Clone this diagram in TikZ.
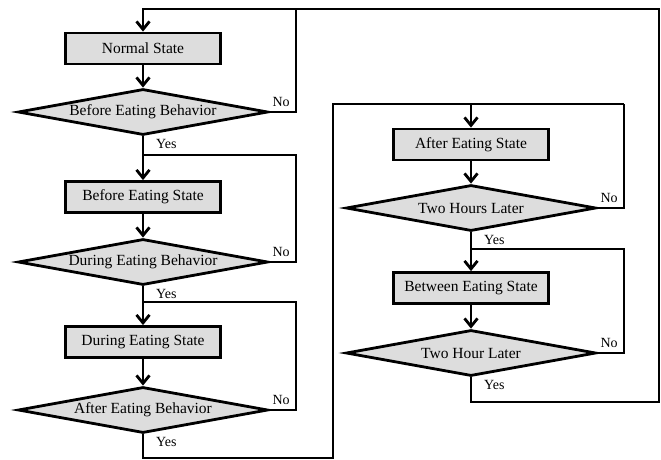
\documentclass[tikz,border=0pt]{standalone}
\usepackage{fontspec}
\setmainfont{Liberation Serif}
\usetikzlibrary{arrows.meta, shapes.geometric, positioning}
\definecolor{boxfill}{RGB}{221,221,221}

\begin{document}
\begin{tikzpicture}[
  x=1pt, y=-1pt,
  state/.style={rectangle, draw, line width=2.8pt, fill=boxfill,
                minimum width=155pt, minimum height=31pt, inner sep=0pt,
                font=\fontsize{15.5}{17}\selectfont},
  test/.style={diamond, aspect=5.2, draw, line width=2.8pt, fill=boxfill,
               minimum width=250pt, minimum height=46pt, inner sep=0pt,
               font=\fontsize{15.5}{17}\selectfont},
  flow/.style={line width=2.8pt},
  arrow/.style={flow, -{Straight Barb[length=8pt, width=13pt]}},
  yeslbl/.style={anchor=north west, inner sep=1pt, xshift=12pt, yshift=-2pt,
                 font=\fontsize{14}{16}\selectfont},
  nolbl/.style={anchor=south west, inner sep=1pt, xshift=2pt, yshift=4pt,
                font=\fontsize{14}{16}\selectfont}
]
\useasboundingbox (0,0) rectangle (661,459);

% Left column
\node[state] (ns)  at (143,48.5) {Normal State};
\node[test]  (beb) at (143,112)  {Before Eating Behavior};
\node[state] (bes) at (143,197)  {Before Eating State};
\node[test]  (deb) at (143,262)  {During Eating Behavior};
\node[state] (des) at (143,342)  {During Eating State};
\node[test]  (aeb) at (143,410)  {After Eating Behavior};

% Right column
\node[state] (aes) at (471,144.5) {After Eating State};
\node[test]  (thl) at (471,208)   {Two Hours Later};
\node[state] (bts) at (471,288)   {Between Eating State};
\node[test]  (thr) at (471,353)   {Two Hour Later};

% Corners of the loops
\coordinate (top)   at (143,9);
\coordinate (j1)    at (143,155);
\coordinate (j2)    at (143,302);
\coordinate (rtop)  at (471,104);
\coordinate (j3)    at (471,249);
\coordinate (lrail) at (296,0);
\coordinate (rrail) at (624,0);
\coordinate (link)  at (333,458);
\coordinate (outer) at (659,402);

% Straight arrows
\foreach \a/\b in {ns/beb, beb/bes, bes/deb, deb/des, des/aeb,
                   aes/thl, thl/bts, bts/thr}
  \draw[arrow] (\a.south) -- (\b.north);

% No branches
\draw[flow] (beb.east) -| (lrail |- top);
\draw[flow] (deb.east) -| (lrail |- j1) -- (j1);
\draw[flow] (aeb.east) -| (lrail |- j2) -- (j2);
\draw[flow] (thl.east) -| (rrail |- rtop);
\draw[flow] (thr.east) -| (rrail |- j3) -- (j3);

% Yes branch to the right column, and back to the start
\draw[flow] (aeb.south) |- (link) |- (rrail |- rtop);
\draw[arrow] (rtop) -- (aes.north);
\draw[arrow] (thr.south) |- (outer) |- (top) -- (ns.north);

% Labels
\foreach \d in {beb, deb, aeb, thl, thr}
  \node[yeslbl] at (\d.south) {Yes};
\foreach \d in {beb, deb, aeb, thl, thr}
  \node[nolbl] at (\d.east) {No};

\end{tikzpicture}
\end{document}
